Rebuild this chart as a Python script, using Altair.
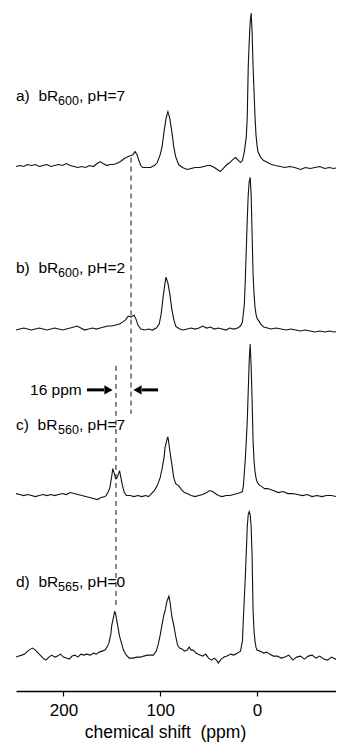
import altair as alt
import pandas as pd

# ---- spectra: (chemical shift ppm, intensity above own baseline) ----
trace_a = [(249,0),(245,1),(241,0),(237,2),(233,1),(229,2),(225,0),(221,1),(217,2),(213,0),
           (209,1),(205,2),(201,1),(197,3),(193,1),(189,0),(185,-1),(181,0),(177,-1),(173,1),
           (169,0),(165,3),(162,5),(159,3),(155,1),(152,2),(149,2),(145,3),(141,5),(137,8),
           (133,10),(130,11),(128,12),(126,15),(124,12),(122,6),(120,1),(118,-1),(114,-1),(110,-1),
           (106,1),(103,4),(100,12),(98,20),(96,35),(94,48),(92,55),(90,48),(88,35),(87,28),
           (86,20),(84,10),(81,2),(77,-1),(72,-3),(68,-2),(64,-1),(59,-1),(55,0),(51,1),
           (48,1),(44,-1),(41,-3),(38,-5),(35,-2),(31,2),(28,4),(25,7),(22,9),(19,6),
           (17,4),(15,6),(13,15),(11,30),(10,50),(9,100),(8,125),(7,145),(6,154),(5,135),
           (4,100),(3,75),(2,50),(1,32),(0,22),(-1,15),(-4,9),(-7,6),(-11,4),(-15,2),
           (-19,1),(-24,0),(-29,-1),(-34,0),(-39,-1),(-45,-3),(-50,-1),(-55,-2),(-60,-1),(-65,0),
           (-70,-2),(-75,-1),(-79,-2),(-84,-1),(-89,-1)]

trace_b = [(249,-1),(245,0),(241,1),(237,0),(233,-1),(229,0),(225,1),(221,0),(217,-1),(213,0),
           (209,1),(205,0),(201,-1),(197,0),(193,1),(189,2),(186,3),(182,1),(178,-1),(174,0),
           (170,1),(166,0),(162,1),(158,2),(154,3),(150,3),(146,4),(142,5),(139,7),(136,9),
           (133,13),(130,12),(127,14),(125,10),(123,4),(120,0),(116,-1),(112,0),(108,-1),(104,1),
           (101,5),(99,15),(97,32),(95,46),(94,52),(92,46),(90,35),(88,20),(86,10),(84,3),
           (80,0),(76,-1),(72,0),(68,1),(64,0),(60,1),(56,3),(52,1),(48,2),(44,0),
           (40,1),(36,0),(32,-1),(28,1),(24,0),(20,1),(17,3),(15,7),(13,25),(12,50),
           (11,80),(10,110),(9,135),(8,148),(7,152),(6,135),(5,95),(4,55),(3,35),(2,22),
           (1,15),(0,11),(-2,8),(-4,5),(-7,2),(-11,1),(-15,0),(-20,1),(-25,0),(-30,-1),
           (-35,0),(-40,-1),(-45,-2),(-50,-1),(-55,-2),(-60,-3),(-65,-2),(-70,-3),(-75,-2),(-80,-3),
           (-85,-2),(-89,-2)]

trace_c = [(249,2),(245,1),(241,0),(237,1),(233,0),(229,-1),(225,0),(221,1),(217,0),(213,1),
           (209,0),(205,1),(201,2),(197,1),(193,3),(189,2),(185,1),(181,0),(177,-1),(173,-2),
           (169,-3),(165,-4),(161,-2),(157,-1),(156,0),(154,3),(152,8),(150,20),(149,27),(148,24),
           (146,17),(145,17),(143,22),(142,25),(141,20),(139,10),(137,3),(135,0),(131,0),(127,-1),
           (123,0),(119,-1),(115,0),(112,-1),(109,2),(106,5),(103,10),(100,18),(98,27),(96,38),
           (95,48),(93,56),(92,59),(91,52),(90,45),(89,38),(87,25),(86,18),(84,12),(81,10),
           (78,6),(75,3),(72,2),(68,0),(64,-1),(60,0),(56,1),(52,3),(49,5),(46,4),
           (43,2),(40,0),(36,-1),(32,0),(28,0),(24,1),(20,2),(17,3),(15,4),(14,10),
           (12,37),(11,55),(10,75),(9,105),(8,135),(7,152),(6,130),(5,95),(4,55),(3,35),
           (2,24),(1,18),(0,14),(-2,11),(-5,9),(-8,7),(-11,7),(-17,5),(-22,3),(-27,4),
           (-32,2),(-37,2),(-42,1),(-47,0),(-52,1),(-57,-1),(-62,0),(-67,-1),(-72,0),(-77,0),
           (-82,-1),(-89,0)]

trace_d = [(249,-1),(246,0),(243,1),(240,2),(237,5),(234,7),(232,8),(229,6),(226,3),(223,0),
           (220,-3),(218,-4),(215,-1),(212,1),(209,-1),(206,0),(203,2),(200,-1),(197,-2),(194,-3),
           (191,0),(188,1),(185,-1),(182,2),(179,1),(176,2),(172,1),(169,3),(166,2),(163,4),
           (160,5),(157,6),(155,9),(153,13),(151,22),(150,31),(148,40),(147,45),(146,42),(144,31),
           (142,20),(140,13),(138,6),(135,1),(132,-2),(128,-2),(124,-1),(120,-1),(117,0),(113,1),
           (110,1),(107,1),(104,5),(102,12),(100,21),(98,32),(96,42),(95,45),(93,55),(91,60),
           (90,55),(89,48),(88,40),(86,31),(84,20),(82,11),(80,8),(77,7),(75,5),(72,6),
           (70,9),(68,6),(66,6),(63,3),(59,1),(56,0),(53,2),(50,-2),(47,-4),(44,-2),
           (41,-5),(40,-7),(37,-3),(34,-1),(31,0),(27,2),(24,1),(20,3),(17,5),(15,15),
           (14,38),(12,80),(10,130),(9,142),(8,145),(7,142),(6,130),(5,100),(4,45),(3,25),
           (2,15),(1,9),(0,6),(-3,5),(-7,3),(-10,4),(-13,2),(-17,0),(-21,0),(-25,-2),
           (-29,-1),(-33,1),(-37,-4),(-41,-1),(-45,0),(-49,-3),(-53,0),(-57,1),(-61,-2),(-65,0),
           (-69,-3),(-73,-4),(-77,-1),(-81,-3),(-85,-2),(-89,-4)]

trace_names = ["a", "b", "c", "d"]
trace_offsets = [526, 363, 196, 35]

# ---- labels ----
NB = "\u00a0"
lab_letter = ["a)" + NB * 2 + "bR", "b)" + NB * 2 + "bR", "c)" + NB * 2 + "bR", "d)" + NB * 2 + "bR"]
lab_sub = ["600", "600", "560", "565"]
lab_ph = [",\u00a0pH=7", ",\u00a0pH=2", ",\u00a0pH=7", ",\u00a0pH=0"]
lab_y = [597, 424, 267, 109]
lab_ppm = 249

# ---- dashed guide lines (ppm, top, bottom) ----
dash_ppm = [130.1, 145.7]
dash_top = [535, 326]
dash_bottom = [278, 83]

# ---- 16 ppm annotation ----
ann_text = "16 ppm"
ann_ppm = 234.5
ann_y = 302
shaft_start = [175.6, 118.8]
shaft_end = [158.1, 102.2]
head_ppm = [153.4, 123.4]
head_shape = ["triangle-right", "triangle-left"]

tick_values = [200, 100, 0]

rows = []
for name, tr, off in zip(trace_names, [trace_a, trace_b, trace_c, trace_d], trace_offsets):
    for p, h in tr:
        rows.append({"trace": name, "ppm": p, "y": h + off})
df = pd.DataFrame(rows)

labels = pd.DataFrame({"ppm": [lab_ppm] * 4, "y": lab_y, "main": lab_letter,
                       "sub": lab_sub, "ph": lab_ph})
dashes = pd.DataFrame({"ppm": dash_ppm, "y": dash_top, "y2": dash_bottom})
shafts = pd.DataFrame({"ppm": shaft_start, "ppm2": shaft_end, "y": [ann_y] * 2})
heads = pd.DataFrame({"ppm": head_ppm, "y": [ann_y] * 2, "shape": head_shape})
ann = pd.DataFrame({"ppm": [ann_ppm], "y": [ann_y], "t": [ann_text]})

FONT = "Liberation Sans"
X = alt.X("ppm:Q",
          scale=alt.Scale(domain=[-81.7, 249], reverse=True, nice=False, zero=False),
          axis=alt.Axis(values=tick_values, title="chemical shift\u00a0\u00a0(ppm)", grid=False,
                        domainColor="black", domainWidth=1.5, tickColor="black",
                        tickSize=5, tickWidth=1.2, labelFontSize=17, labelFont=FONT,
                        labelColor="black", labelPadding=6, titleFontSize=17.5,
                        titleFont=FONT, titleFontWeight="normal", titleColor="black",
                        titleX=149, titleY=46, titleBaseline="alphabetic",
                        titleAlign="center"))
Y = alt.Y("y:Q", scale=alt.Scale(domain=[0, 685], nice=False, zero=False), axis=None)

lines = alt.Chart(df).mark_line(color="#111111", strokeWidth=1.1, clip=True).encode(
    x=X, y=Y, detail="trace:N")

dash_layer = alt.Chart(dashes).mark_rule(color="#111111", strokeWidth=1,
                                         strokeDash=[5, 4]).encode(x=X, y=Y, y2="y2:Q")

shaft_layer = alt.Chart(shafts).mark_rule(color="black", strokeWidth=3).encode(
    x=X, x2="ppm2:Q", y=Y)
head_layer = alt.Chart(heads).mark_point(filled=True, color="black", size=90,
                                         opacity=1).encode(
    x=X, y=Y, shape=alt.Shape("shape:N", scale=None))
ann_layer = alt.Chart(ann).mark_text(align="left", baseline="middle", font=FONT,
                                     fontSize=15.5, fill="black").encode(
    x=X, y=Y, text="t:N")

main_txt = alt.Chart(labels).mark_text(align="left", baseline="middle", font=FONT,
                                       fontSize=15.5, fill="black").encode(
    x=X, y=Y, text="main:N")
sub_txt = alt.Chart(labels).mark_text(align="left", baseline="middle", font=FONT,
                                      fontSize=12.5, dx=42, dy=5, fill="black").encode(
    x=X, y=Y, text="sub:N")
ph_txt = alt.Chart(labels).mark_text(align="left", baseline="middle", font=FONT,
                                     fontSize=15.5, dx=63, fill="black").encode(
    x=X, y=Y, text="ph:N")

chart = alt.layer(lines, dash_layer, shaft_layer, head_layer, ann_layer,
                  main_txt, sub_txt, ph_txt).properties(
    width=320, height=683,
    autosize=alt.AutoSizeParams(type="none"),
    padding={"left": 8, "top": 0, "right": 0, "bottom": 51},
    background="white",
).configure_view(stroke=None)

chart.save("out.html", embed_options={"renderer": "svg", "actions": False})
